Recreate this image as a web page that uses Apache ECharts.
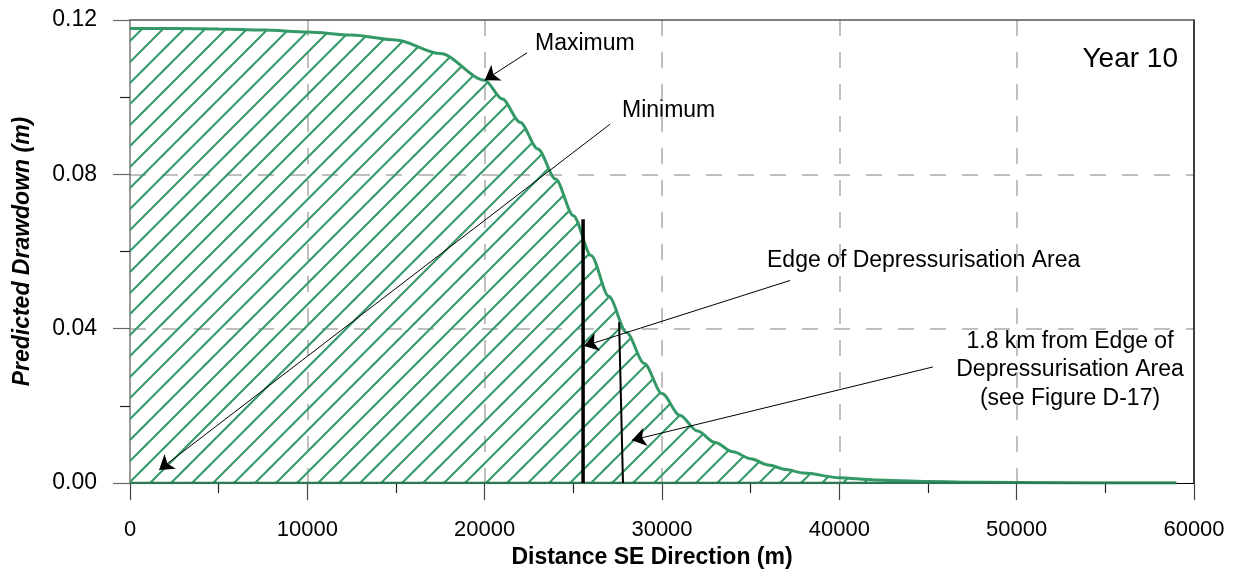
<!DOCTYPE html>
<html>
<head>
<meta charset="utf-8">
<script src="https://cdn.jsdelivr.net/npm/echarts@6/dist/echarts.min.js"></script>
<style>
  html, body { margin: 0; padding: 0; background: #fff; }
  #chart { width: 1239px; height: 574px; }
</style>
</head>
<body>
<div id="chart"></div>
<script>
// Distance along the SE direction (m) and predicted drawdown (m) at year 10
const distance = [0, 2500, 5000, 7500, 10000, 12500, 15000, 17500, 20000, 21000, 22000, 23000, 24000, 25000,
  26000, 27000, 28000, 29000, 30000, 31000, 32000, 33000, 34000, 35000, 36000, 37000, 38000, 40000,
  42000, 45000, 48000, 52000, 56000, 59000];
const maxDrawdown = [0.1178, 0.1178, 0.1177, 0.1174, 0.1169, 0.1161, 0.1148, 0.1113, 0.1044, 0.0995, 0.0935,
  0.0866, 0.0788, 0.0693, 0.0590, 0.0484, 0.0390, 0.0310, 0.0232, 0.0176, 0.0135, 0.0105, 0.0081,
  0.0063, 0.0047, 0.0035, 0.0026, 0.0014, 0.0008, 0.0004, 0.0002, 0.0001, 0.0000, 0.0000];
const minDrawdown = [0, 0, 0, 0, 0, 0, 0, 0, 0, 0, 0, 0, 0, 0, 0, 0, 0, 0, 0, 0, 0, 0, 0, 0, 0, 0, 0, 0,
  0, 0, 0, 0, 0, 0];

// Edge of the depressurisation area and the line 1.8 km beyond it
const edgeLine = [[25550, 0], [25550, 0.0684]];
const edgePlus18Line = [[27800, 0], [27580, 0.0417]];

// Tick labels
const xTickLabels = ['0', '10000', '20000', '30000', '40000', '50000', '60000'];
const yTickLabels = ['0.00', '0.04', '0.08', '0.12'];

// Callout arrows: [start, tip] in data units
const calloutArrows = [
  [[22390, 0.1115], [20000, 0.1044]],   // Maximum
  [[27070, 0.0930], [1640, 0.0034]],    // Minimum
  [[37220, 0.0525], [25600, 0.0355]],   // Edge of Depressurisation Area
  [[45280, 0.0301], [28300, 0.0111]]    // 1.8 km from edge
];

const GREEN = '#339966';
const FONT = '"Liberation Sans", Arial, Helvetica, sans-serif';

// Diagonal hatch tile for the band between minimum and maximum
const tile = document.createElement('canvas');
tile.width = 21; tile.height = 21;
const tc = tile.getContext('2d');
tc.strokeStyle = GREEN;
tc.lineWidth = 2;
for (const k of [-21, 0, 21, 42]) {
  tc.beginPath();
  tc.moveTo(k + 3 - 25, 25);
  tc.lineTo(k + 3 + 25, -25);
  tc.stroke();
}

const chart = echarts.init(document.getElementById('chart'), null, { renderer: 'canvas' });

const option = {
  animation: false,
  backgroundColor: '#fff',
  grid: { left: 130, right: 45, top: 20, bottom: 88 },
  xAxis: [
    {
      type: 'value', position: 'bottom', min: 0, max: 60000, interval: 10000,
      name: 'Distance SE Direction (m)', nameLocation: 'middle', nameGap: 61,
      nameTextStyle: { fontFamily: FONT, fontSize: 23, fontWeight: 'bold', color: '#000', padding: [0, 20, 0, 0] },
      axisLine: { show: true, onZero: false, lineStyle: { color: '#000', width: 1 } },
      axisTick: { show: true, length: 17, lineStyle: { color: '#444', width: 1.2 } },
      minorTick: { show: true, splitNumber: 2, length: 10, lineStyle: { color: '#222', width: 1.2 } },
      axisLabel: {
        margin: 36, fontFamily: FONT, fontSize: 22, color: '#000',
        formatter: (v) => xTickLabels[Math.round(v / 10000)]
      },
      splitLine: { show: true, showMinLine: false, showMaxLine: false,
        lineStyle: { type: [16, 16], color: '#aaa', width: 1.5 } }
    },
    {
      type: 'value', position: 'top', min: 0, max: 60000,
      axisLine: { show: true, onZero: false, lineStyle: { color: '#555', width: 1.5 } },
      axisTick: { show: false }, axisLabel: { show: false }, splitLine: { show: false }
    }
  ],
  yAxis: [
    {
      type: 'value', position: 'left', min: 0, max: 0.12, interval: 0.04,
      name: 'Predicted Drawdown (m)', nameLocation: 'middle', nameGap: 96,
      nameTextStyle: { fontFamily: FONT, fontSize: 23, fontWeight: 'bold', fontStyle: 'italic', color: '#000' },
      axisLine: { show: true, onZero: false, lineStyle: { color: '#777', width: 1.5 } },
      axisTick: { show: true, length: 17, lineStyle: { color: '#666', width: 1.2 } },
      minorTick: { show: true, splitNumber: 2, length: 10, lineStyle: { color: '#222', width: 1.2 } },
      axisLabel: {
        margin: 33, fontFamily: FONT, fontSize: 23, color: '#000',
        formatter: (v) => yTickLabels[Math.round(v / 0.04)]
      },
      splitLine: { show: true, showMinLine: false, showMaxLine: false,
        lineStyle: { type: [16, 16], color: '#aaa', width: 1.5 } }
    },
    {
      type: 'value', position: 'right', min: 0, max: 0.12,
      axisLine: { show: true, onZero: false, lineStyle: { color: '#000', width: 1.5 } },
      axisTick: { show: false }, axisLabel: { show: false }, splitLine: { show: false }
    }
  ],
  series: [
    {
      name: 'Maximum', type: 'line', xAxisIndex: 0, yAxisIndex: 0,
      data: distance.map((d, i) => [d, maxDrawdown[i]]),
      showSymbol: false, smooth: 0.3, smoothMonotone: 'x',
      lineStyle: { color: GREEN, width: 3 },
      areaStyle: { color: { image: tile, repeat: 'repeat' }, opacity: 1 },
      z: 3, silent: true
    },
    {
      name: 'Minimum', type: 'line', xAxisIndex: 0, yAxisIndex: 0,
      data: distance.map((d, i) => [d, minDrawdown[i]]),
      showSymbol: false,
      lineStyle: { color: '#2b7a53', width: 2.5 },
      z: 4, silent: true,
      markLine: {
        silent: true, animation: false,
        symbol: ['none', 'arrow'], symbolSize: 14,
        label: { show: false },
        lineStyle: { color: '#000', width: 1, type: 'solid' },
        emphasis: { disabled: true },
        data: calloutArrows.map(([from, to]) => [{ coord: from }, { coord: to }])
      }
    },
    {
      name: 'Edge of Depressurisation Area', type: 'line', xAxisIndex: 0, yAxisIndex: 0,
      data: edgeLine, showSymbol: false,
      lineStyle: { color: '#000', width: 3.5 }, z: 5, silent: true
    },
    {
      name: '1.8 km from Edge', type: 'line', xAxisIndex: 0, yAxisIndex: 0,
      data: edgePlus18Line, showSymbol: false,
      lineStyle: { color: '#000', width: 2 }, z: 5, silent: true
    }
  ],
  graphic: [
    { type: 'text', x: 535, y: 44, silent: true,
      style: { text: 'Maximum', fontFamily: FONT, fontSize: 23, fill: '#000', align: 'left', verticalAlign: 'middle' } },
    { type: 'text', x: 622, y: 111, silent: true,
      style: { text: 'Minimum', fontFamily: FONT, fontSize: 23, fill: '#000', align: 'left', verticalAlign: 'middle' } },
    { type: 'text', x: 767, y: 261, silent: true,
      style: { text: 'Edge of Depressurisation Area', fontFamily: FONT, fontSize: 23, fill: '#000', align: 'left', verticalAlign: 'middle' } },
    { type: 'text', x: 1070, y: 370, silent: true,
      style: { text: '1.8 km from Edge of\nDepressurisation Area\n(see Figure D-17)', fontFamily: FONT, fontSize: 23,
        lineHeight: 28.5, fill: '#000', align: 'center', verticalAlign: 'middle' } },
    { type: 'text', x: 1178, y: 59, silent: true,
      style: { text: 'Year 10', fontFamily: FONT, fontSize: 28, fill: '#000', align: 'right', verticalAlign: 'middle' } }
  ]
};

chart.setOption(option);
</script>
</body>
</html>
